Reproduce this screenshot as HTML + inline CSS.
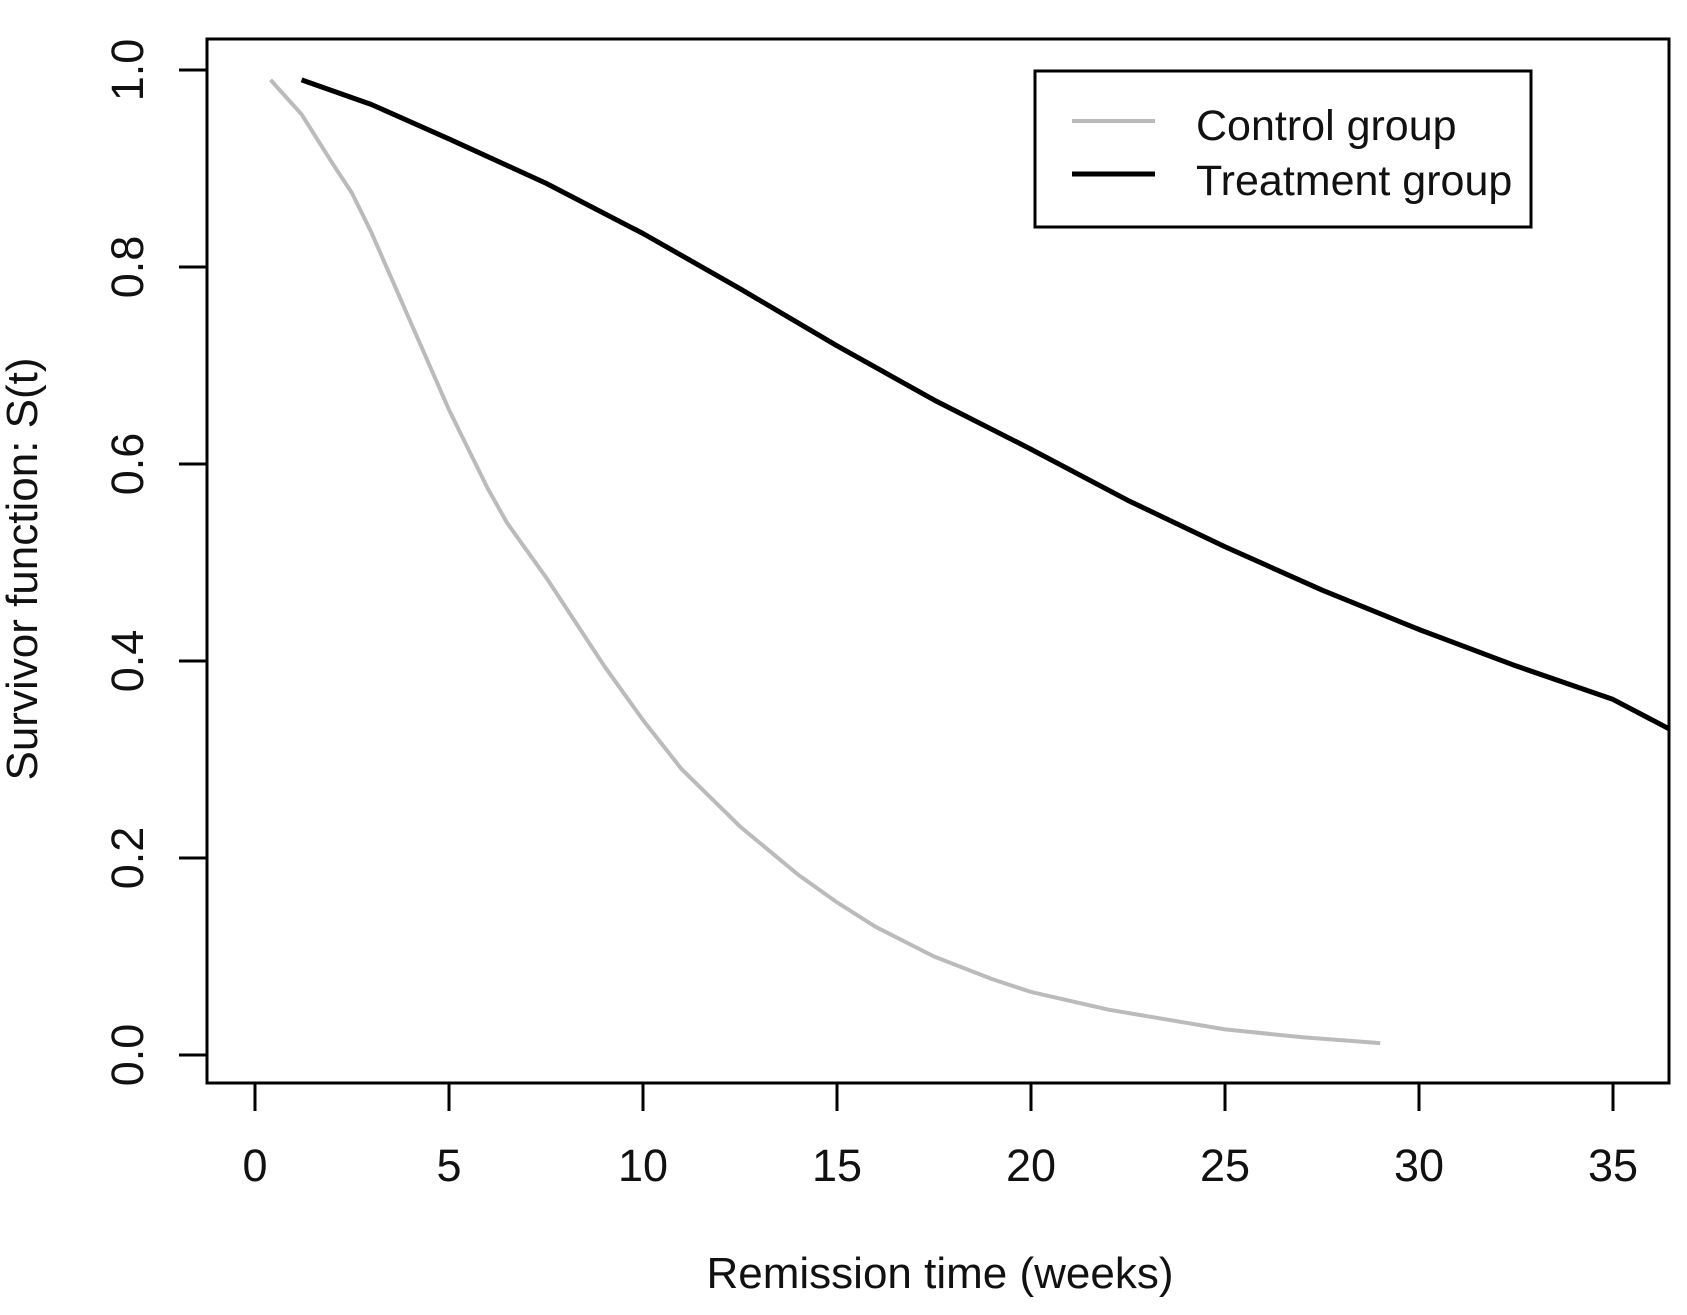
<!DOCTYPE html>
<html><head><meta charset="utf-8"><style>
html,body{margin:0;padding:0;background:#fff;}
svg{display:block;font-family:"Liberation Sans",sans-serif;}
</style></head><body>
<svg id="chart" width="1687" height="1315" viewBox="0 0 1687 1315" xmlns="http://www.w3.org/2000/svg">
<rect x="0" y="0" width="1687" height="1315" fill="#fff"/>
<g id="axes"></g>
<g id="series"></g>
<rect x="207" y="39" width="1462" height="1044" fill="none" stroke="#000" stroke-width="3"/>
<text x="940" y="1288" font-size="44" text-anchor="middle" fill="#111">Remission time (weeks)</text>
<text transform="translate(37,569) rotate(-90)" font-size="44" text-anchor="middle" fill="#111">Survivor function: S(t)</text>
<g>
<rect x="1035" y="71" width="496" height="156" fill="#fff" stroke="#000" stroke-width="3"/>
<line x1="1072" y1="121" x2="1155" y2="121" stroke="#bbb" stroke-width="4"/>
<line x1="1072" y1="174" x2="1155" y2="174" stroke="#000" stroke-width="5"/>
<text x="1196" y="140" font-size="43" fill="#111">Control group</text>
<text x="1196" y="195" font-size="43" fill="#111">Treatment group</text>
</g>
</svg>
<script>
const xTicks = [0, 5, 10, 15, 20, 25, 30, 35];
const yTicks = [0.0, 0.2, 0.4, 0.6, 0.8, 1.0];
const yTickLabels = ["0.0", "0.2", "0.4", "0.6", "0.8", "1.0"];
const controlT = [0.4, 1.2, 2, 2.5, 3, 3.5, 4, 5, 6, 6.5, 7.5, 8.5, 9, 10, 11, 12.5, 14, 15, 16, 17.5, 19, 20, 22, 25, 27, 29];
const controlS = [0.99, 0.955, 0.905, 0.875, 0.835, 0.79, 0.745, 0.655, 0.575, 0.54, 0.485, 0.425, 0.395, 0.34, 0.29, 0.232, 0.183, 0.155, 0.13, 0.1, 0.077, 0.064, 0.046, 0.026, 0.018, 0.012];
const treatT = [1.2, 3, 5, 7.5, 10, 12.5, 15, 17.5, 20, 22.5, 25, 27.5, 30, 32.5, 35, 36.5];
const treatS = [0.99, 0.965, 0.93, 0.885, 0.834, 0.778, 0.72, 0.665, 0.615, 0.563, 0.516, 0.472, 0.432, 0.395, 0.361, 0.330];

const X0 = 255, XU = 38.8, Y0 = 1055, YU = 985;
function xs(v){ return X0 + v * XU; }
function ys(v){ return Y0 - v * YU; }
const NS = "http://www.w3.org/2000/svg";
const axes = document.getElementById('axes');
const series = document.getElementById('series');
function mk(tag, attrs, parent){ const e = document.createElementNS(NS, tag); for (const k in attrs) e.setAttribute(k, attrs[k]); parent.appendChild(e); return e; }

xTicks.forEach(function(t){
  const l = mk('line', {x1: xs(t), x2: xs(t), y1: 1083, y2: 1111, stroke: '#000', 'stroke-width': 3}, axes);
  
  
  const tx = mk('text', {x: xs(t), y: 1181, 'font-size': 45, 'text-anchor': 'middle', fill: '#111'}, axes);
  tx.textContent = String(t);
  
  
});
yTicks.forEach(function(v, i){
  const l = mk('line', {x1: 179, x2: 207, y1: ys(v), y2: ys(v), stroke: '#000', 'stroke-width': 3}, axes);
  
  
  const tx = mk('text', {transform: 'translate(143,' + ys(v) + ') rotate(-90)', 'font-size': 45, 'text-anchor': 'middle', fill: '#111'}, axes);
  tx.textContent = yTickLabels[i];
  
  
});

const clip = mk('clipPath', {id: 'pc'}, mk('defs', {}, series));
mk('rect', {x: 207, y: 39, width: 1462, height: 1044}, clip);
function pts(T, S){ return T.map(function(t, i){ return xs(t) + ',' + ys(S[i]); }).join(' '); }
const c = mk('polyline', {points: pts(controlT, controlS), fill: 'none', stroke: '#bbb', 'stroke-width': 4, 'stroke-linejoin': 'round', 'clip-path': 'url(#pc)'}, series);


const tr = mk('polyline', {points: pts(treatT, treatS), fill: 'none', stroke: '#000', 'stroke-width': 5, 'stroke-linejoin': 'round', 'clip-path': 'url(#pc)'}, series);


</script>
</body></html>
